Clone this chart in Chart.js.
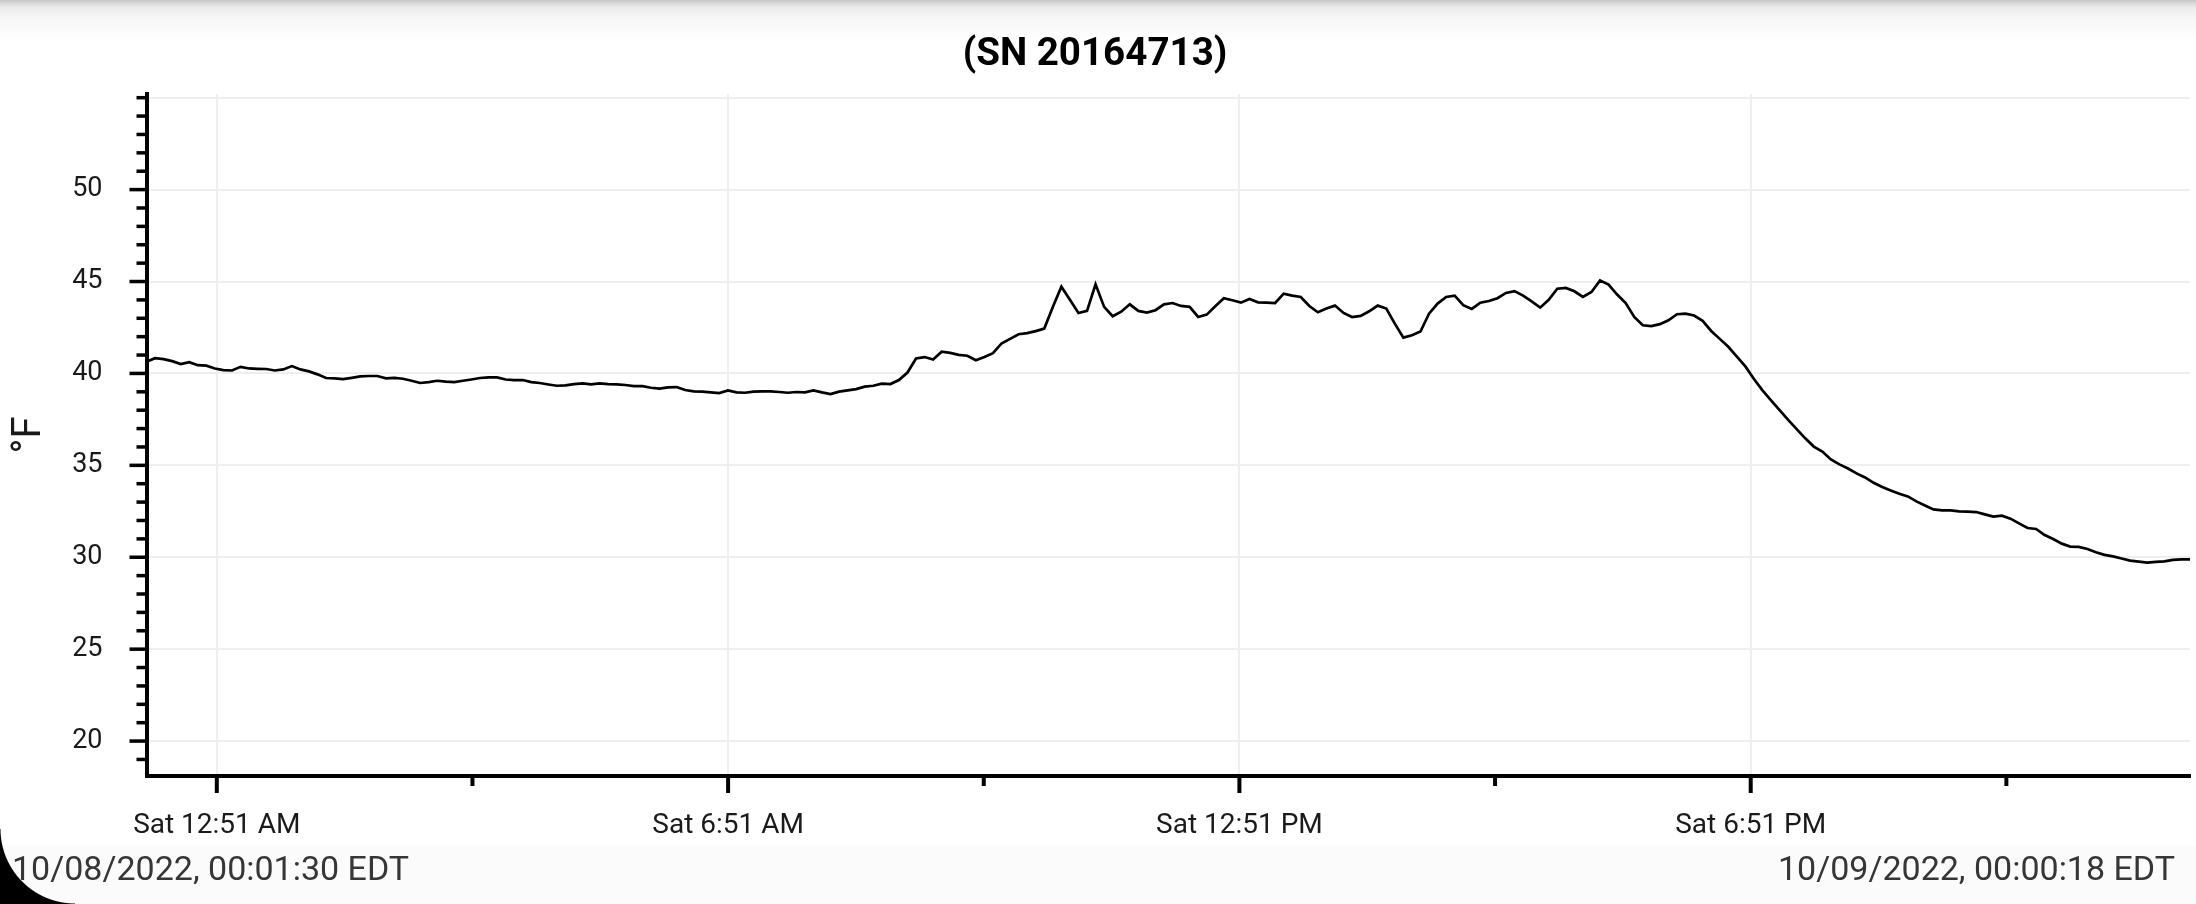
<!DOCTYPE html>
<html>
<head>
<meta charset="utf-8">
<script src="https://cdn.jsdelivr.net/npm/chart.js@4.4.1/dist/chart.umd.min.js"></script>
<style>
  html, body { margin: 0; padding: 0; width: 2196px; height: 904px; overflow: hidden; background: #fff; font-family: Roboto, sans-serif; }
  #topShade { position: absolute; left: 0; top: 0; width: 2196px; height: 40px;
    background: linear-gradient(#c4c4c4 0px, #d8d8d8 3px, #ececec 8px, #f6f6f6 18px, #fff 40px); }
  #footerBand { position: absolute; left: 0; top: 845px; width: 2196px; height: 59px; background: #fbfbfb; }
  #wrap { position: absolute; left: 0; top: 0; width: 2196px; height: 904px; }
  .stamp { position: absolute; top: 848px; font-size: 34px; line-height: 40px; color: #363636; white-space: nowrap; }
  #stampStart { left: 12px; }
  #stampEnd { right: 21px; }
  #corner { position: absolute; left: 0; bottom: 0; width: 75px; height: 75px;
    background: radial-gradient(circle at 100% 0%, rgba(0,0,0,0) 74px, #000 75px); }
</style>
</head>
<body>
<div id="topShade"></div>
<div id="footerBand"></div>
<div id="wrap"><canvas id="chart" width="2196" height="904"></canvas></div>
<div class="stamp" id="stampStart">10/08/2022, 00:01:30 EDT</div>
<div class="stamp" id="stampEnd">10/09/2022, 00:00:18 EDT</div>
<div id="corner"></div>
<script>
// logger window, minutes after midnight of 10/08 (00:01:30 -> next day 00:00:18)
const logStart = 1.5;
const logEnd = 1440.3;

// temperature readings, °F, one per logging interval
const tempF = [
  40.63, 40.83, 40.78, 40.67, 40.51, 40.61, 40.45, 40.42, 40.27, 40.18,
  40.16, 40.36, 40.27, 40.25, 40.24, 40.16, 40.22, 40.40, 40.22, 40.11,
  39.95, 39.75, 39.73, 39.69, 39.76, 39.84, 39.86, 39.86, 39.73, 39.76,
  39.71, 39.60, 39.48, 39.53, 39.60, 39.55, 39.53, 39.60, 39.67, 39.75,
  39.78, 39.78, 39.67, 39.64, 39.64, 39.53, 39.48, 39.40, 39.33, 39.35,
  39.42, 39.46, 39.40, 39.46, 39.42, 39.40, 39.37, 39.31, 39.31, 39.22,
  39.17, 39.24, 39.26, 39.10, 39.02, 39.01, 38.97, 38.93,
  39.08, 38.97, 38.95, 39.01, 39.02, 39.02, 38.99, 38.95, 38.99, 38.97,
  39.08, 38.97, 38.88, 39.01, 39.08, 39.15, 39.28, 39.33, 39.44, 39.42,
  39.64, 40.05, 40.81, 40.89, 40.76, 41.18, 41.12, 41.01, 40.96, 40.72,
  40.90, 41.10, 41.63, 41.88, 42.13, 42.19, 42.30, 42.44, 43.62, 44.72,
  44.01, 43.29, 43.40, 44.85, 43.62, 43.11, 43.36, 43.76, 43.40, 43.31,
  43.44, 43.76, 43.83, 43.67, 43.62, 43.07, 43.20, 43.65, 44.09, 43.98,
  43.85, 44.05,
  43.87, 43.85, 43.83, 44.34, 44.23, 44.16, 43.67, 43.33, 43.53, 43.69,
  43.29, 43.07, 43.13, 43.38, 43.69, 43.53, 42.71, 41.95, 42.08, 42.28,
  43.25, 43.80, 44.16, 44.23, 43.71, 43.51, 43.85, 43.94, 44.09, 44.38,
  44.48, 44.23, 43.92, 43.58, 44.01, 44.61, 44.65, 44.47, 44.16, 44.43,
  45.06, 44.83, 44.29, 43.83, 43.07, 42.62, 42.57, 42.68, 42.89, 43.22,
  43.25, 43.15, 42.86, 42.31, 41.88, 41.45, 40.92, 40.38,
  39.70, 39.08, 38.54, 38.00, 37.47, 36.97, 36.47, 36.02, 35.75, 35.32,
  35.05, 34.83, 34.56, 34.34, 34.05, 33.82, 33.63, 33.45, 33.31, 33.04,
  32.82, 32.60, 32.55, 32.55, 32.50, 32.48, 32.46, 32.33, 32.21, 32.26,
  32.10, 31.84, 31.59, 31.54, 31.21, 30.99, 30.74, 30.58, 30.56, 30.45,
  30.27, 30.13, 30.05, 29.93, 29.82, 29.76, 29.71, 29.75, 29.78, 29.86,
  29.88, 29.88
];

// x axis: labelled ticks and the unlabelled ones between them
const xMajorTicks = [51, 411, 771, 1131];
const xMajorLabels = ['Sat 12:51 AM', 'Sat 6:51 AM', 'Sat 12:51 PM', 'Sat 6:51 PM'];
const xMinorTicks = [231, 591, 951, 1311];

// y axis
const yMin = 18.1;
const yMax = 55.2;
const yGridValues = [20, 25, 30, 35, 40, 45, 50, 55];
const yLabelled = [20, 25, 30, 35, 40, 45, 50];

const step = (logEnd - logStart) / (tempF.length - 1);
const points = tempF.map((v, i) => ({ x: logStart + i * step, y: v }));

// major / minor tick marks, placed with the chart's own scales
const tickMarks = {
  id: 'tickMarks',
  afterDraw(chart) {
    const { ctx, chartArea: area, scales } = chart;
    const x = scales.x, y = scales.y;
    ctx.save();
    ctx.fillStyle = '#000';
    for (let v = Math.ceil(yMin); v <= Math.floor(yMax); v++) {
      const py = y.getPixelForValue(v);
      const len = yLabelled.includes(v) ? 17 : 10;
      ctx.fillRect(area.left - len, py - 1.75, len, 3.5);
    }
    xMajorTicks.forEach(v => {
      const px = x.getPixelForValue(v);
      ctx.fillRect(px - 2, area.bottom, 4, 17);
    });
    xMinorTicks.forEach(v => {
      const px = x.getPixelForValue(v);
      ctx.fillRect(px - 2, area.bottom, 4, 10);
    });
    ctx.restore();
  }
};

new Chart(document.getElementById('chart'), {
  type: 'line',
  data: {
    datasets: [{
      data: points,
      borderColor: '#000',
      borderWidth: 2.7,
      pointRadius: 0,
      tension: 0,
      fill: false,
    }],
  },
  options: {
    responsive: false,
    animation: false,
    devicePixelRatio: 1,
    layout: { padding: { left: 0, right: 6, top: 0, bottom: 0 } },
    plugins: {
      legend: { display: false },
      tooltip: { enabled: false },
      title: {
        display: true,
        text: '(SN 20164713)',
        color: '#000',
        font: { family: 'Roboto', size: 38.6, weight: 'bold' },
        padding: { top: 32, bottom: 15.7 },
      },
    },
    scales: {
      x: {
        type: 'linear',
        min: logStart,
        max: logEnd,
        afterBuildTicks: scale => { scale.ticks = xMajorTicks.map(v => ({ value: v })); },
        afterFit: scale => { scale.height = 128; },
        ticks: {
          autoSkip: false,
          maxRotation: 0,
          padding: 33,
          color: '#1a1a1a',
          font: { family: 'Roboto', size: 28 },
          callback: (value, index) => xMajorLabels[index],
        },
        grid: { color: '#eeeeee', lineWidth: 2, drawTicks: false },
        border: { display: true, color: '#000', width: 4 },
      },
      y: {
        min: yMin,
        max: yMax,
        afterBuildTicks: scale => { scale.ticks = yGridValues.map(v => ({ value: v })); },
        afterFit: scale => { scale.width = 146.5; },
        ticks: {
          padding: 44,
          color: '#1a1a1a',
          font: { family: 'Roboto', size: 27 },
          callback: value => (yLabelled.includes(value) ? String(value) : ''),
        },
        grid: { color: '#eeeeee', lineWidth: 2, drawTicks: false },
        border: { display: true, color: '#000', width: 4 },
        title: {
          display: true,
          text: '°F',
          color: '#1a1a1a',
          font: { family: 'Roboto', size: 40 },
          padding: { top: 6, bottom: 0 },
        },
      },
    },
  },
  plugins: [tickMarks],
});
</script>
</body>
</html>
